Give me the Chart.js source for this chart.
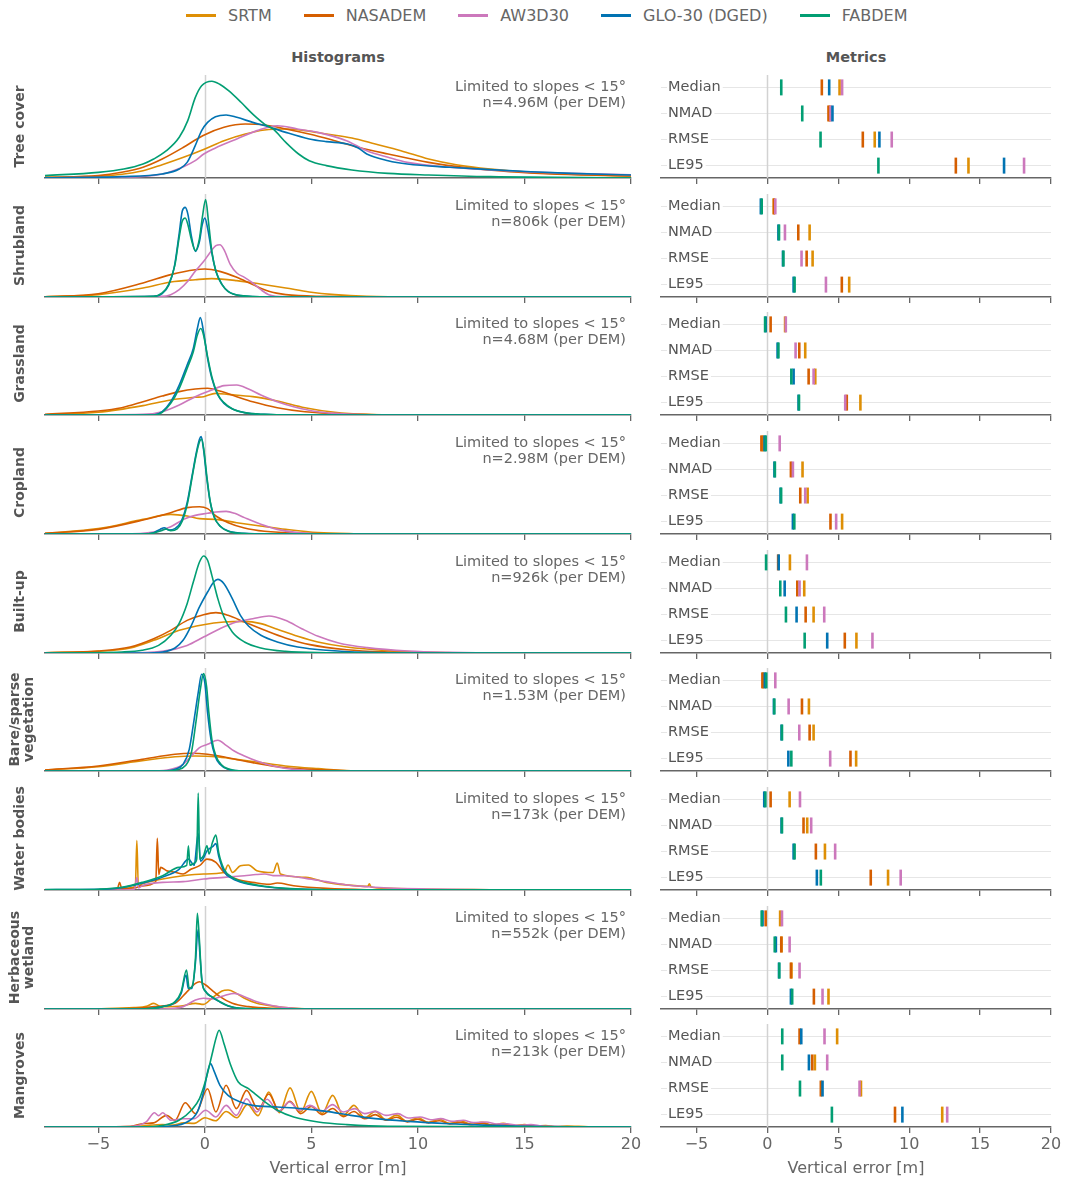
<!DOCTYPE html>
<html>
<head>
<meta charset="utf-8">
<script src="https://cdn.jsdelivr.net/npm/chart.js@4.4.0/dist/chart.umd.min.js"></script>
<style>
  body { margin: 0; background: #fff; font-family: "DejaVu Sans", sans-serif; }
  #page { position: relative; width: 1070px; height: 1179px; overflow: hidden; }
  #page canvas { position: absolute; }
  #legend { position: absolute; left: 186px; top: 6px; display: flex; gap: 32px; font-size: 16px; color: #666; line-height: 19px; }
  #legend .item { display: flex; align-items: center; }
  #legend .swatch { display: inline-block; width: 30px; height: 3.5px; margin-right: 12px; }
  .coltitle { position: absolute; top: 48px; text-align: center; font-weight: bold; font-size: 14.5px; color: #555; line-height: 18px; }
</style>
</head>
<body>
<div id="page">
  <div id="legend"></div>
  <div class="coltitle" style="left:45px;width:586px">Histograms</div>
  <div class="coltitle" style="left:661px;width:390px">Metrics</div>
</div>
<script>
// --- labels, ticks ---
const FONT = '"DejaVu Sans", sans-serif';
const demNames   = ['SRTM', 'NASADEM', 'AW3D30', 'GLO-30 (DGED)', 'FABDEM'];
const demColors  = ['#DE8F05', '#D55E00', '#CC78BC', '#0173B2', '#029E73'];
const metricNames = ['Median', 'NMAD', 'RMSE', 'LE95'];
const xTicks = [-5, 0, 5, 10, 15, 20];
const rowLabels = ['Tree cover', 'Shrubland', 'Grassland', 'Cropland', 'Built-up',
  ['Bare/sparse', 'vegetation'], 'Water bodies', ['Herbaceous', 'wetland'], 'Mangroves'];
const rowCounts = ['4.96M', '806k', '4.68M', '2.98M', '926k', '1.53M', '173k', '552k', '213k'];

// --- histograms: [error (m), density as % of panel height] ---
const treeSRTM = [[-7.5,0.6],[-5,1.6],[-2.9,7.1],[-2,12.9],[-1,20.1],[0,28.2],[0.9,36.2],[1.9,42.7],[2.8,46.6],[3.8,47.6],[4.7,46],[5.7,42.7],[6.9,38.8],[8,33],[9.2,26.5],[10.5,18.4],[11.8,12.9],[13.4,8.7],[15.3,5.5],[17.2,3.6],[20,1.9]];
const treeNASADEM = [[-7.5,0.6],[-5,2.3],[-3.9,5.5],[-2.9,10.4],[-2,18.4],[-1,29.8],[-0.1,41.1],[0.9,49.2],[1.9,52.4],[2.8,51.5],[3.8,47.6],[4.9,42.7],[6.1,36.2],[7.2,29.8],[8.6,23.3],[10.5,15.2],[12.4,9.7],[14.3,6.1],[16.3,3.9],[20,1.9]];
const treeAW3D30 = [[-7.5,0.3],[-3.9,0.6],[-2,3.9],[-1,11],[-0.45,16.8],[-0.05,23.3],[0.5,29.1],[1.5,37.9],[2.45,46],[3.4,50.8],[4.35,47.6],[5.3,44.3],[6.65,36.2],[7.6,26.5],[8.6,20.1],[9.5,15.2],[11.5,10.4],[13.4,7.8],[15.3,5.8],[17.2,4.5],[20,3.2]];
const treeGLO = [[-7.5,0.3],[-3.9,1.3],[-2,3.9],[-1.2,8.7],[-0.83,15.2],[-0.45,31.4],[-0.15,46],[0.13,54],[0.5,59.5],[1,61.2],[1.5,58.9],[2.25,54],[3,49.8],[3.8,44.3],[4.9,37.9],[5.7,35.3],[6.7,33],[7.2,29.1],[7.6,23.3],[8.6,16.8],[9.5,13.6],[11.5,10.4],[13.4,8.1],[15.3,6.1],[17.2,4.5],[20,2.9]];
const treeFAB = [[-7.5,2.3],[-5,5.5],[-3.8,8.7],[-2.9,13.6],[-2.4,18.4],[-1.8,26.5],[-1.2,39.5],[-0.8,55.7],[-0.45,78],[-0.15,89.6],[0.33,94],[0.7,91],[1.1,85],[1.7,73.5],[2.25,62],[2.8,52.4],[3.2,47.6],[3.8,34.6],[4.4,23.3],[4.9,16.8],[5.7,12],[6.9,7.8],[8.6,4.5],[10.5,2.9],[13.4,1.3],[20,0.3]];

const shrubSRTM = [[-7.5,0.3],[-5,2.3],[-2.9,8.7],[-1.6,14.6],[-0.45,16.8],[0.33,17.8],[1.5,15.9],[2.6,12.6],[3.8,8.7],[4.9,4.9],[6.1,2.3],[7.6,0.6],[10,0],[20,0]];
const shrubNASADEM = [[-7.5,0.3],[-5,3.2],[-2.9,13.6],[-1.6,21.7],[-0.45,26.5],[0,27.2],[0.7,24.9],[1.5,19.1],[2.25,12],[3,5.5],[3.8,2.3],[5.7,0.6],[8,0],[20,0]];
const shrubAW3D30 = [[-7.5,0],[-2,0.6],[-1.6,2.3],[-1.2,7.1],[-0.8,15.2],[-0.45,25],[-0.05,34.6],[0.23,42.7],[0.52,49.8],[0.71,50.8],[0.9,46],[1.2,31.4],[1.5,23.3],[1.86,19.1],[2.25,13.6],[2.63,7.1],[3,2.3],[3.8,0.3],[6,0],[20,0]];
const shrubGLO = [[-7.5,0],[-2.4,0.6],[-2,3.2],[-1.7,11.3],[-1.44,28.2],[-1.21,60.5],[-1.06,83.2],[-0.92,87],[-0.79,80],[-0.63,59],[-0.44,44.3],[-0.25,54],[-0.12,70.2],[0,76.7],[0.13,67],[0.33,42.7],[0.52,25],[0.81,12],[1.09,5.5],[1.67,1.3],[3,0],[20,0]];
const shrubFAB = [[-7.5,0],[-2.4,0.6],[-2,3.9],[-1.7,12],[-1.4,31.4],[-1.21,57],[-1.06,73.5],[-0.92,76.7],[-0.79,70],[-0.63,55.7],[-0.44,45],[-0.25,57],[-0.12,76.7],[0.04,94.5],[0.17,73.5],[0.33,44.3],[0.52,25],[0.81,12],[1.09,5.5],[1.67,1.3],[3,0],[20,0]];

const grassSRTM = [[-7.5,0.3],[-5,2.6],[-2.9,9.1],[-1.6,14.6],[-0.45,17.2],[-0.05,17.8],[0.5,21],[1.1,20],[2.25,17.8],[3.4,13.6],[4.7,7.1],[6.1,2.6],[7.6,0.6],[10,0],[20,0]];
const grassNASADEM = [[-7.5,0.6],[-5,3.9],[-3.9,7.1],[-2.9,12.9],[-2,18.4],[-1.2,22.7],[-0.45,25.2],[0.13,25.9],[0.7,23.3],[1.5,17.8],[2.25,12.9],[3.4,7.1],[4.7,3.2],[6.7,1],[9.5,0],[20,0]];
const grassAW3D30 = [[-7.5,0],[-2.9,0.6],[-2,3.2],[-1.2,9.7],[-0.45,17.8],[0.33,24.3],[0.9,28.5],[1.5,29.1],[2.05,25.2],[2.63,19.4],[3.4,12.9],[4.17,8.1],[5.3,3.2],[6.7,1],[8.6,0],[20,0]];
const grassGLO = [[-7.5,0],[-2.4,0],[-2,3.2],[-1.6,12.9],[-1.2,29],[-0.83,48.5],[-0.54,64.7],[-0.35,84],[-0.21,94.5],[-0.06,81],[0.13,55],[0.33,35.6],[0.61,19.4],[0.9,11.3],[1.3,5.8],[1.86,2.3],[2.8,0.6],[4,0],[20,0]];
const grassFAB = [[-7.5,0],[-2.4,0],[-2,2.6],[-1.6,11.3],[-1.2,25.9],[-0.83,45.3],[-0.54,61.5],[-0.35,77.7],[-0.19,84],[-0.06,77.7],[0.13,56.6],[0.33,37.2],[0.61,20],[0.9,12],[1.3,5.8],[1.86,2.3],[2.8,0.6],[4,0],[20,0]];

const cropSRTM = [[-7.5,0.6],[-5,5.2],[-2.9,14.2],[-1.6,19.1],[-0.83,17.5],[-0.25,14.9],[0.5,14.2],[1.5,11],[2.6,7.8],[3.8,4.5],[5.3,1.3],[7,0.3],[10,0],[20,0]];
const cropNASADEM = [[-7.5,0.6],[-5,4.5],[-2.9,13.6],[-1.6,20.7],[-0.83,25.6],[-0.25,26.5],[0.13,24.6],[0.52,17.5],[1.1,11],[1.86,5.8],[2.8,2.6],[4.7,0.6],[7,0],[20,0]];
const cropAW3D30 = [[-7.5,0],[-3.9,0],[-2.4,1.9],[-1.6,7.1],[-1,14.2],[-0.45,18.1],[0.13,20.1],[0.52,21.4],[1,22],[1.4,20.1],[1.86,15.9],[2.63,9.4],[3.4,4.5],[4.36,1.3],[5.7,0],[20,0]];
const cropGLO = [[-7.5,0],[-2.9,0],[-2.4,1.3],[-2.1,4.5],[-1.9,6.1],[-1.7,3.9],[-1.4,5.2],[-1.1,12.6],[-0.83,30.4],[-0.6,56.3],[-0.4,79],[-0.25,92],[-0.17,94.5],[-0.06,82.2],[0.08,56.3],[0.23,33.7],[0.42,17.5],[0.71,7.8],[1.1,2.9],[1.86,0.6],[3,0],[20,0]];
const cropFAB = [[-7.5,0],[-2.9,0],[-2.4,1],[-2,3.5],[-1.8,4.8],[-1.6,3.2],[-1.3,5],[-1.05,13],[-0.8,31],[-0.58,57],[-0.38,79],[-0.24,90],[-0.15,92],[-0.04,81],[0.1,55],[0.25,32],[0.45,16],[0.75,7],[1.1,2.6],[1.86,0.5],[3,0],[20,0]];

const builtSRTM = [[-7.5,0.3],[-5,1.6],[-3.5,4.9],[-2.4,12.3],[-1.2,22],[-0.06,27.5],[0.9,30.1],[1.86,30.7],[2.63,28.5],[3.4,23],[4.36,16.2],[5.3,10.7],[6.66,5.8],[8.6,2.3],[10.5,0.6],[13,0],[20,0]];
const builtNASADEM = [[-7.5,0.3],[-5,1.9],[-3.5,5.8],[-2.4,13.9],[-1.6,22],[-0.83,31.7],[-0.06,37.2],[0.52,39.2],[1.09,36.6],[1.86,30.1],[2.82,22],[3.78,14.6],[4.93,8.1],[6.66,3.2],[8.58,1],[11,0],[20,0]];
const builtAW3D30 = [[-7.5,0],[-3.9,0],[-2,1.6],[-0.83,7.4],[-0.06,15.5],[0.71,23.6],[1.48,30.1],[2.25,33.3],[3.01,35.9],[3.78,31.7],[4.55,23.6],[5.32,16.2],[6.28,9.7],[7.62,5.2],[9.54,1.9],[11.46,0.6],[14,0],[20,0]];
const builtGLO = [[-7.5,0],[-2.94,0],[-1.98,1],[-1.4,4.9],[-1.02,12.3],[-0.63,26.9],[-0.25,44.7],[0.13,59.2],[0.42,68.9],[0.61,71.5],[0.9,67.3],[1.29,52.8],[1.67,36.6],[2.05,26.2],[2.63,17.2],[3.4,10.7],[4.36,5.8],[5.7,2.6],[7.62,0.6],[10,0],[20,0]];
const builtFAB = [[-7.5,0],[-3.9,1],[-2.94,2.6],[-2.17,7.4],[-1.59,17.2],[-1.21,28.5],[-0.83,47.9],[-0.54,68.9],[-0.25,88.3],[-0.06,94.2],[0.13,90],[0.33,75.4],[0.61,52.8],[0.9,35],[1.29,20.4],[1.86,10.7],[2.63,4.9],[3.78,1.6],[5.7,0.3],[8,0],[20,0]];

const bareSRTM = [[-7.5,1],[-5,4.2],[-2.94,10],[-1.4,13.9],[-0.44,14.6],[0.52,13.9],[1.48,11.3],[2.63,8.1],[3.78,4.9],[5.32,2.3],[6.85,0.3],[9,0],[20,0]];
const bareNASADEM = [[-7.5,1],[-5,4.9],[-2.94,11.3],[-1.4,16.2],[-0.63,17.2],[0.13,16.2],[1.09,12.9],[2.25,8.1],[3.4,4.2],[4.93,1.6],[6.66,0.3],[9,0],[20,0]];
const bareAW3D30 = [[-7.5,0],[-2.36,0],[-1.59,1.6],[-1.02,6.5],[-0.63,14.6],[-0.25,22.7],[0.13,25.9],[0.61,29.8],[1,24.9],[1.38,19.4],[1.86,14.6],[2.44,9.7],[3.2,4.9],[4.17,1.6],[5.7,0],[20,0]];
const bareGLO = [[-7.5,0],[-1.98,0],[-1.4,1.6],[-1.02,6.5],[-0.73,21],[-0.5,50.2],[-0.31,76],[-0.15,94],[0,85.8],[0.13,56.6],[0.29,30.7],[0.48,14.6],[0.71,6.5],[1.09,1.6],[1.86,0],[20,0]];
const bareFAB = [[-7.5,0],[-1.98,0],[-1.3,1.2],[-0.92,5],[-0.63,17.8],[-0.4,50.2],[-0.21,79.3],[-0.06,94.5],[0.08,82.5],[0.19,56.6],[0.33,30.7],[0.52,14.6],[0.81,5.5],[1.29,1],[2,0],[20,0]];

const waterSRTM = [[-7.5,0],[-4.5,0.3],[-3.6,2],[-3.26,3.5],[-3.19,47.9],[-3.12,4],[-2.94,5.8],[-1.98,10.7],[-1.02,13.9],[-0.06,15.5],[0.9,17],[1.09,24.3],[1.3,17],[1.67,23.6],[2.05,24.3],[2.44,18.8],[3.2,17],[3.4,26.2],[3.55,15.5],[4.74,12.3],[5.7,7.4],[6.66,4.9],[7.65,3.5],[7.72,6],[7.8,3],[8.58,1.6],[10.5,0.6],[13.4,0.3],[20,0]];
const waterNASADEM = [[-7.5,0],[-4.5,0.3],[-4.1,1.5],[-4,7.4],[-3.9,1.5],[-3.3,2],[-2.94,4],[-2.3,8],[-2.23,50.2],[-2.16,15],[-2.07,22],[-1.79,18.8],[-1.4,17.2],[-1.02,15.5],[-0.63,20.4],[-0.25,23.6],[0.1,30],[0.52,26.9],[0.9,17.2],[1.48,10.7],[2.44,6.8],[3,5.5],[3.4,6.8],[4.17,4.2],[5.7,1.6],[7.6,0.3],[10,0],[20,0]];
const waterAW3D30 = [[-7.5,0],[-4,0],[-3.3,1],[-3.19,12],[-3.1,2],[-2.94,4.2],[-1.98,7.4],[-1.02,8.1],[-0.06,10.7],[0.9,12.3],[1.86,13.9],[2.4,15],[2.82,15.5],[3.2,14],[3.78,13.9],[4.74,11.3],[5.7,8.1],[6.66,4.9],[7.62,3.2],[8.58,1.9],[10.5,1],[13.4,0.3],[20,0]];
const waterGLO = [[-7.5,0.3],[-5,0.6],[-3.9,2.2],[-2.94,6.5],[-1.98,12.5],[-1.21,20],[-0.77,30],[-0.5,24],[-0.31,55],[-0.2,28],[-0.06,31],[0.1,38],[0.36,42],[0.52,45],[0.65,33],[0.9,18],[1.29,11],[1.86,6.5],[2.82,3.2],[3.78,1.4],[5.7,0.3],[20,0.2]];
const waterFAB = [[-7.5,0.5],[-6,0.5],[-5,0.8],[-3.9,2.6],[-2.94,7.4],[-1.98,13.9],[-1.21,22],[-0.85,24],[-0.77,43],[-0.7,24],[-0.5,26],[-0.38,30],[-0.31,94.2],[-0.24,30],[-0.06,33.3],[0.1,43],[0.2,35],[0.36,46.3],[0.52,53.4],[0.65,36.6],[0.9,20.4],[1.29,12.3],[1.86,7.4],[2.82,3.6],[3.78,1.6],[5.7,0.3],[20,0.2]];

const herbSRTM = [[-7.5,0],[-4.86,0.3],[-3.32,1.3],[-2.7,3],[-2.4,5.5],[-2.1,2.5],[-1.98,2.3],[-1.02,3.2],[-0.44,5.5],[-0.06,4.5],[0.33,10.4],[0.81,17.5],[1.09,18.4],[1.48,15.2],[1.86,10.4],[2.44,5.5],[3.4,2.3],[3.78,1.3],[4.93,0],[20,0]];
const herbNASADEM = [[-7.5,0],[-3.5,0.5],[-2.36,2.3],[-1.4,5.5],[-0.83,16.8],[-0.44,24.9],[-0.25,26.5],[0.04,23.3],[0.33,18.4],[0.71,12],[1.29,5.5],[2.05,2.3],[3.4,0.6],[5,0],[20,0]];
const herbAW3D30 = [[-7.5,0],[-2,0],[-1.02,2.3],[-0.44,8.7],[-0.06,10.4],[0.33,9.7],[0.9,12.9],[1.38,15.2],[1.86,12],[2.44,7.1],[3.2,3.2],[4.17,0.6],[5,0],[20,0]];
const herbGLO = [[-7.5,0],[-2.94,0],[-1.98,2.3],[-1.4,6.5],[-1.11,15],[-0.88,33],[-0.78,20],[-0.6,20],[-0.44,45],[-0.32,77],[-0.22,50],[-0.12,25],[0.04,17],[0.33,11.5],[0.71,6.8],[1.09,3],[1.67,0.6],[3,0],[20,0]];
const herbFAB = [[-7.5,0],[-2.94,0],[-1.98,2.3],[-1.4,7.1],[-1.11,16.8],[-0.86,37.9],[-0.73,20],[-0.6,21.7],[-0.44,49.2],[-0.35,92.9],[-0.25,65.4],[-0.15,29.8],[0.04,16.8],[0.33,12],[0.71,7.1],[1.09,3.2],[1.67,0.6],[3,0],[20,0]];

const mangSRTM = [[-7.5,0],[-4,0.3],[-3,1],[-2,2.5],[-1.5,2],[-1,4],[-0.5,3.5],[0,9],[0.5,6],[1,15],[1.5,9],[2,22],[2.5,11],[3,34],[3.5,14],[4,38],[4.5,14.5],[5,34.6],[5.5,13],[6,30.7],[6.5,11],[7,21],[7.5,9],[8,15.2],[8.5,7],[9,11.5],[9.5,5.5],[10,9],[10.5,4.5],[11,7.5],[11.5,3.5],[12,6],[12.5,2.8],[13,4.5],[13.5,2],[14,3.5],[14.5,1.5],[15,2.5],[15.5,1],[16,1.5],[16.5,0.5],[17,1],[18,0.2],[20,0]];
const mangNASADEM = [[-7.5,0],[-3.5,0.5],[-2.94,3.2],[-2.4,4],[-1.79,11.3],[-1.4,6.5],[-0.92,23.6],[-0.44,12.9],[0.13,37.2],[0.52,14.6],[1,40.5],[1.48,17.8],[1.96,35.6],[2.5,17],[3,32],[3.5,15],[4,25],[4.5,13],[5,20],[5.5,12],[6,18],[6.5,10],[7,15],[7.5,8],[8,12],[8.5,6.5],[9,9.5],[9.5,5],[10,7.5],[10.5,4],[11,6],[11.5,3],[12,4.5],[12.5,2.3],[13,3.5],[13.5,1.6],[14,2.5],[14.5,1],[15,1.5],[16,0.5],[17,0],[20,0]];
const mangAW3D30 = [[-7.5,0],[-3.5,0.5],[-2.75,4.9],[-2.36,13.9],[-2.17,11],[-1.98,13.9],[-1.59,6.5],[-1,8],[-0.5,8],[0.04,16.2],[0.52,9.7],[1,21],[1.48,11.3],[1.96,27.5],[2.44,14.6],[2.92,26.9],[3.45,15.2],[3.97,24.3],[4.45,16.2],[4.93,21],[5.5,15.2],[5.99,21.7],[6.5,14.6],[7.04,17.8],[7.5,13],[8,15.2],[8.5,11.3],[9.06,13],[9.55,8.7],[10.1,9.7],[10.6,7.1],[11.07,8.1],[11.6,5.5],[12.13,6.5],[12.6,4.2],[13.2,4.9],[13.7,2.9],[14.15,3.2],[14.7,1.6],[15.3,2.3],[15.8,1],[16.3,0.6],[17,0.3],[20,0]];
const mangGLO = [[-7.5,0],[-2.94,0],[-1.59,1],[-0.83,4.9],[-0.35,14.6],[-0.06,34],[0.13,53.4],[0.27,61.5],[0.42,55],[0.71,40.5],[1.09,30.7],[1.67,24.3],[2.25,21],[3.4,19.4],[4.55,17.8],[5.7,15.2],[6.85,11.3],[8,8.1],[9.54,5.5],[11.46,3.2],[13.38,1.6],[15.3,0.6],[20,0]];
const mangFAB = [[-7.5,0],[-2.94,0],[-1.98,1.6],[-1.21,6.5],[-0.63,16.2],[-0.25,27.5],[0.04,45.3],[0.33,69.6],[0.52,85.8],[0.67,93.9],[0.9,80.9],[1.19,61.5],[1.57,43.7],[2.05,37.2],[2.34,32.4],[2.82,24.3],[3.4,16.2],[4.17,9.7],[5.32,4.9],[6.66,2.3],[8.58,0.6],[20,0]];

// --- metrics (m): per DEM [Median, NMAD, RMSE, LE95], order SRTM, NASADEM, AW3D30, GLO-30, FABDEM ---
const mTree  = [[5.09,4.4,7.57,14.18],[3.84,4.31,6.73,13.29],[5.27,4.45,8.77,18.1],[4.36,4.59,7.9,16.69],[0.98,2.46,3.75,7.83]];
const mShrub = [[0.45,2.98,3.19,5.77],[0.47,2.18,2.77,5.25],[0.56,1.24,2.41,4.13],[-0.46,0.78,1.1,1.85],[-0.4,0.82,1.13,1.92]];
const mGrass = [[1.25,2.67,3.38,6.56],[0.23,2.25,2.91,5.6],[1.3,1.99,3.26,5.49],[-0.12,0.72,1.85,2.2],[-0.16,0.78,1.69,2.23]];
const mCrop  = [[-0.32,2.48,2.84,5.27],[-0.42,1.66,2.32,4.45],[0.87,1.8,2.67,4.85],[-0.2,0.5,0.93,1.8],[-0.12,0.53,0.97,1.9]];
const mBuilt = [[1.59,2.6,3.26,6.28],[0.76,2.11,2.7,5.46],[2.79,2.27,4.01,7.41],[0.8,1.22,2.06,4.22],[-0.09,0.91,1.31,2.63]];
const mBare  = [[-0.28,2.93,3.26,6.26],[-0.35,2.44,2.98,5.86],[0.56,1.5,2.25,4.43],[-0.18,0.46,1.0,1.48],[-0.08,0.49,1.03,1.69]];
const mWater = [[1.57,2.81,4.06,8.51],[0.23,2.55,3.42,7.29],[2.3,3.09,4.78,9.4],[-0.22,1.0,1.85,3.49],[-0.14,1.03,1.92,3.77]];
const mHerb  = [[0.9,1.0,1.7,4.31],[-0.12,0.98,1.66,3.28],[1.03,1.57,2.27,3.89],[-0.34,0.6,0.82,1.66],[-0.4,0.52,0.84,1.75]];
const mMang  = [[4.92,3.35,6.6,12.33],[2.27,3.16,3.77,9.0],[4.03,4.22,6.5,12.68],[2.39,2.93,3.89,9.52],[1.05,1.05,2.3,4.55]];

const histRows = [
  [treeSRTM, treeNASADEM, treeAW3D30, treeGLO, treeFAB],
  [shrubSRTM, shrubNASADEM, shrubAW3D30, shrubGLO, shrubFAB],
  [grassSRTM, grassNASADEM, grassAW3D30, grassGLO, grassFAB],
  [cropSRTM, cropNASADEM, cropAW3D30, cropGLO, cropFAB],
  [builtSRTM, builtNASADEM, builtAW3D30, builtGLO, builtFAB],
  [bareSRTM, bareNASADEM, bareAW3D30, bareGLO, bareFAB],
  [waterSRTM, waterNASADEM, waterAW3D30, waterGLO, waterFAB],
  [herbSRTM, herbNASADEM, herbAW3D30, herbGLO, herbFAB],
  [mangSRTM, mangNASADEM, mangAW3D30, mangGLO, mangFAB]
];
const metricRows = [mTree, mShrub, mGrass, mCrop, mBuilt, mBare, mWater, mHerb, mMang];

// --- layout ---
const ROW_TOP = 75, ROW_STEP = 118.65, PANEL_H = 103;
const PAD_TOP = 4;

Chart.defaults.font.family = FONT;
Chart.defaults.animation = false;
Chart.defaults.events = [];
Chart.defaults.plugins.legend.display = false;
Chart.defaults.plugins.tooltip.enabled = false;

// legend (html)
const legendEl = document.getElementById('legend');
demNames.forEach((name, k) => {
  const it = document.createElement('div');
  it.className = 'item';
  it.innerHTML = `<span class="swatch" style="background:${demColors[k]}"></span>${name}`;
  legendEl.appendChild(it);
});

// grey line at zero error
const zeroLine = {
  id: 'zeroLine',
  beforeDatasetsDraw(chart) {
    const { ctx, chartArea: a, scales: { x } } = chart;
    const px = Math.round(x.getPixelForValue(0)) + 0.5;
    ctx.save();
    ctx.strokeStyle = '#d2d2d2';
    ctx.lineWidth = 1.5;
    ctx.beginPath();
    ctx.moveTo(px, a.top);
    ctx.lineTo(px, a.bottom);
    ctx.stroke();
    ctx.restore();
  }
};

// "Limited to slopes" text in each histogram
const noteText = {
  id: 'noteText',
  afterDraw(chart, args, opts) {
    if (!opts.n) return;
    const { ctx, chartArea: a } = chart;
    ctx.save();
    ctx.font = '14.5px ' + FONT;
    ctx.fillStyle = '#666';
    ctx.textAlign = 'right';
    ctx.textBaseline = 'middle';
    ctx.fillText('Limited to slopes < 15°', a.right - 5, a.top + 12);
    ctx.fillText('n=' + opts.n + ' (per DEM)', a.right - 5, a.top + 28.5);
    ctx.restore();
  }
};

function xScale(last) {
  return {
    type: 'linear', min: -7.5, max: 20,
    afterBuildTicks: s => { s.ticks = xTicks.map(v => ({ value: v })); },
    afterFit: s => { s.height = last ? 51 : 9; },
    grid: { drawOnChartArea: false, drawTicks: true, tickLength: 6, color: '#666', lineWidth: 1.3 },
    border: { display: true, color: '#666', width: 1.6 },
    ticks: {
      display: last, color: '#666', font: { size: 16 }, padding: 2, maxRotation: 0,
      callback: v => v < 0 ? '\u2212' + Math.abs(v) : String(v)
    },
    title: { display: last, text: 'Vertical error [m]', color: '#666', font: { size: 16 }, padding: { top: 3, bottom: 0 } }
  };
}

function makeCanvas(left, top, w, h) {
  const c = document.createElement('canvas');
  c.width = w; c.height = h;
  c.style.left = left + 'px'; c.style.top = top + 'px';
  c.style.width = w + 'px'; c.style.height = h + 'px';
  document.getElementById('page').appendChild(c);
  return c;
}

rowLabels.forEach((label, i) => {
  const last = i === rowLabels.length - 1;
  const top = Math.round(ROW_TOP + i * ROW_STEP);
  const h = PAD_TOP + PANEL_H + (last ? 51 : 9);
  const twoLines = Array.isArray(label);

  // histogram panel
  const hc = makeCanvas(0, top - PAD_TOP, 651, h);
  new Chart(hc, {
    type: 'line',
    data: {
      datasets: histRows[i].map((arr, k) => ({
        label: demNames[k],
        data: arr.map(p => ({ x: p[0], y: p[1] })),
        borderColor: demColors[k],
        borderWidth: 1.6,
        pointRadius: 0,
        fill: false,
        cubicInterpolationMode: 'monotone',
        order: 4 - k
      }))
    },
    options: {
      responsive: false,
      devicePixelRatio: 1,
      layout: { autoPadding: false, padding: { top: PAD_TOP, left: 0, right: 20, bottom: 0 } },
      plugins: { noteText: { n: rowCounts[i] } },
      scales: {
        x: xScale(last),
        y: {
          min: 0, max: 100,
          afterFit: s => { s.width = 45; },
          ticks: { display: false },
          grid: { display: false },
          border: { display: false },
          title: {
            display: true, text: label, color: '#555',
            font: { size: 14, weight: 'bold', lineHeight: twoLines ? 1.0 : 1.2 },
            padding: { top: twoLines ? 8 : 11.5, bottom: 0 }
          }
        }
      }
    },
    plugins: [zeroLine, noteText]
  });

  // metrics panel
  const mc = makeCanvas(641, top - PAD_TOP, 429, h);
  new Chart(mc, {
    type: 'scatter',
    data: {
      datasets: metricRows[i].map((vals, k) => ({
        label: demNames[k],
        data: vals.map((v, j) => ({ x: v, y: j })),
        pointStyle: 'line',
        pointRotation: 90,
        pointRadius: 8,
        pointBorderWidth: 2.6,
        pointBorderColor: demColors[k],
        pointBackgroundColor: demColors[k],
        order: 4 - k
      }))
    },
    options: {
      responsive: false,
      devicePixelRatio: 1,
      // no auto padding for the tall point marks, keeps the plot area fixed
      layout: { autoPadding: false, padding: { top: PAD_TOP, left: 20, right: 19, bottom: 0 } },
      scales: {
        x: xScale(last),
        y: {
          type: 'linear', reverse: true, min: -0.475, max: 3.475,
          afterBuildTicks: s => { s.ticks = metricNames.map((n, j) => ({ value: j })); },
          afterFit: s => { s.width = 0; s.paddingTop = 0; s.paddingBottom = 0; },
          grid: { color: '#e6e6e6', lineWidth: 1, drawTicks: false },
          border: { display: false },
          ticks: {
            mirror: true, padding: 7, color: '#555', font: { size: 14.5 },
            showLabelBackdrop: true, backdropColor: '#fff', backdropPadding: { top: 0, bottom: 0, left: 1, right: 2 },
            callback: v => metricNames[v]
          }
        }
      }
    },
    plugins: [zeroLine]
  });
});
</script>
</body>
</html>
